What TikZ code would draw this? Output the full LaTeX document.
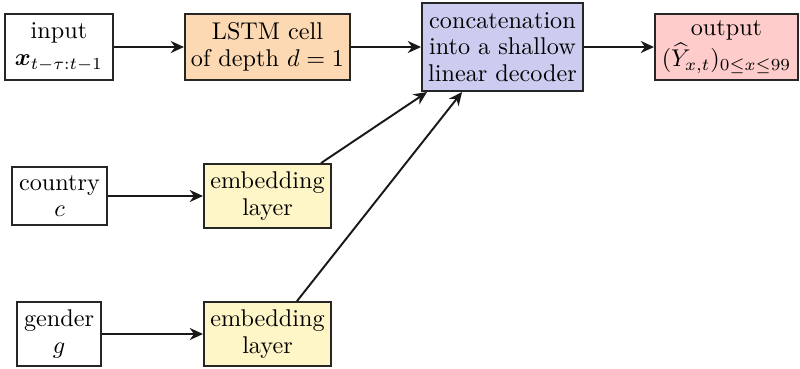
\documentclass[tikz,border=0pt]{standalone}
\usepackage{amsmath,amssymb,bm}
\usetikzlibrary{arrows.meta,calc}
\definecolor{lstmfill}{RGB}{252,217,178}
\definecolor{catfill}{RGB}{204,204,240}
\definecolor{outfill}{RGB}{255,204,204}
\definecolor{embfill}{RGB}{255,246,200}
\tikzset{
  box/.style={draw=black!85, thick, align=center, inner sep=1pt},
  conn/.style={thick, draw=black!90, -{Stealth[length=5.5pt,width=5pt]}},
}
\begin{document}
\begin{tikzpicture}[x=0.4132pt, y=-0.4132pt]
\useasboundingbox (0,0) rectangle (800,368);
% top row
\node[box, minimum width=44.6pt, minimum height=26.9pt] (inp) at (59,47)
  {input\\[-1pt]$\bm{x}_{t-\tau:t-1}$};
\node[box, fill=lstmfill, minimum width=68.2pt, minimum height=26.9pt] (lstm) at (267.5,47)
  {LSTM cell\\[-1pt]of depth $d=1$};
\node[box, fill=catfill, minimum width=66.5pt, minimum height=36.4pt] (cat) at (502.5,47)
  {concatenation\\[-1pt]into a shallow\\[-1pt]linear decoder};
\node[box, fill=outfill, minimum width=59.1pt, minimum height=27.3pt] (out) at (726.5,47)
  {output\\[1pt]$(\widehat{Y}_{x,t})_{0\le x\le 99}$};
% categorical inputs
\node[box, minimum width=39.3pt, minimum height=24.0pt] (cty) at (59.5,196)
  {country\\[-1pt]$c$};
\node[box, fill=embfill, minimum width=52.5pt, minimum height=26.4pt] (emb1) at (267.5,196)
  {embedding\\[-1pt]layer};
\node[box, minimum width=34.7pt, minimum height=26.4pt] (gen) at (59,334)
  {gender\\[-1pt]$g$};
\node[box, fill=embfill, minimum width=52.5pt, minimum height=26.4pt] (emb2) at (267.5,334)
  {embedding\\[-1pt]layer};
% connectors
\draw[conn] (inp) -- (lstm);
\draw[conn] (lstm) -- (cat);
\draw[conn] (cat) -- (out);
\draw[conn] (cty) -- (emb1);
\draw[conn] (gen) -- (emb2);
\draw[conn] ($(emb1.north east)+(-11,0)$) -- ($(cat.south west)+(6,0)$);
\draw[conn] ($(emb2.north east)+(-35,0)$) -- ($(cat.south west)+(41,0)$);
\end{tikzpicture}
\end{document}
